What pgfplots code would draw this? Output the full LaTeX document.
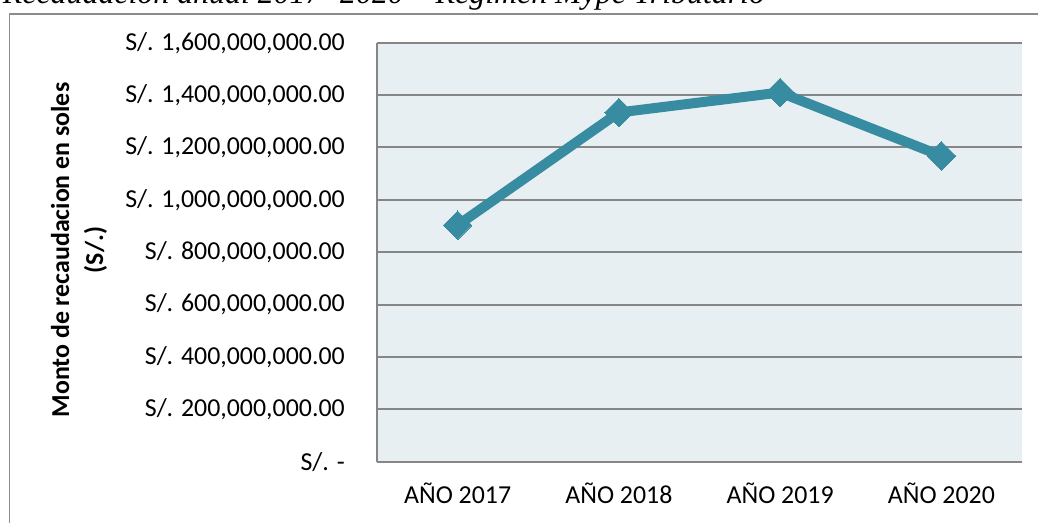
\documentclass[border=0pt]{standalone}
\usepackage{fontspec}
\setmainfont{Carlito}
\newfontfamily\titlefont{Liberation Serif}
\usepackage{pgfplots}
\pgfplotsset{compat=1.18}
\definecolor{linec}{RGB}{56,140,161}
\definecolor{bgc}{RGB}{232,239,243}
\definecolor{gridc}{RGB}{134,134,134}
\definecolor{framec}{RGB}{140,140,140}
\begin{document}
\begin{tikzpicture}
\useasboundingbox (0,0) rectangle (778.5pt,-391.5pt);
\clip (0,0) rectangle (778.5pt,-391.5pt);
\draw[framec, line width=1.1pt] (7pt,-400pt) -- (7pt,-10.5pt) -- (790pt,-10.5pt);
\node[anchor=base west, inner sep=0pt, font=\titlefont\itshape\fontsize{23.9}{28}\selectfont] at (2pt,-2.6pt) {Recaudación anual 2017- 2020 – Régimen Mype Tributario};
\begin{axis}[
 at={(282.75pt,-346.28pt)}, anchor=south west,
 scale only axis, width=483.75pt, height=314.25pt,
 xmin=-0.5, xmax=3.5, ymin=0, ymax=1.6e9,
 xtick={0,1,2,3}, xticklabels={AÑO 2017, AÑO 2018, AÑO 2019, AÑO 2020},
 ytick={0,2e8,4e8,6e8,8e8,1e9,1.2e9,1.4e9,1.6e9},
 yticklabels={S/. -\hspace{7.5pt}, {S/. 200,000,000.00}, {S/. 400,000,000.00}, {S/. 600,000,000.00}, {S/. 800,000,000.00}, {S/. 1,000,000,000.00}, {S/. 1,200,000,000.00}, {S/. 1,400,000,000.00}, {S/. 1,600,000,000.00}},
 scaled y ticks=false,
 major tick length=0pt,
 axis background/.style={fill=bgc},
 axis lines*=left,
 ymajorgrids, grid style={gridc, line width=1.5pt},
 axis line style={gridc, line width=1.5pt},
 tick label style={font=\fontsize{19.4}{23}\selectfont},
 yticklabel style={anchor=east, inner sep=0pt, xshift=-24pt},
 xticklabel style={anchor=base, inner sep=0pt, yshift=-31pt},
 ylabel={Monto de recaudacion en soles\\(S/.)},
 ylabel style={align=center, font=\bfseries\fontsize{19.4}{25.5}\selectfont, at={(axis description cs:-0.462,0.505)}, anchor=center},
 clip=false,
]
\addplot[linec, line width=7.5pt, line join=round, mark=square*, mark options={rotate=45, line width=0pt, fill=linec, draw=linec}, mark size=7.6pt] coordinates {(0,9.03e8)(1,1.3336e9)(2,1.410e9)(3,1.168e9)};
\end{axis}
\end{tikzpicture}
\end{document}
